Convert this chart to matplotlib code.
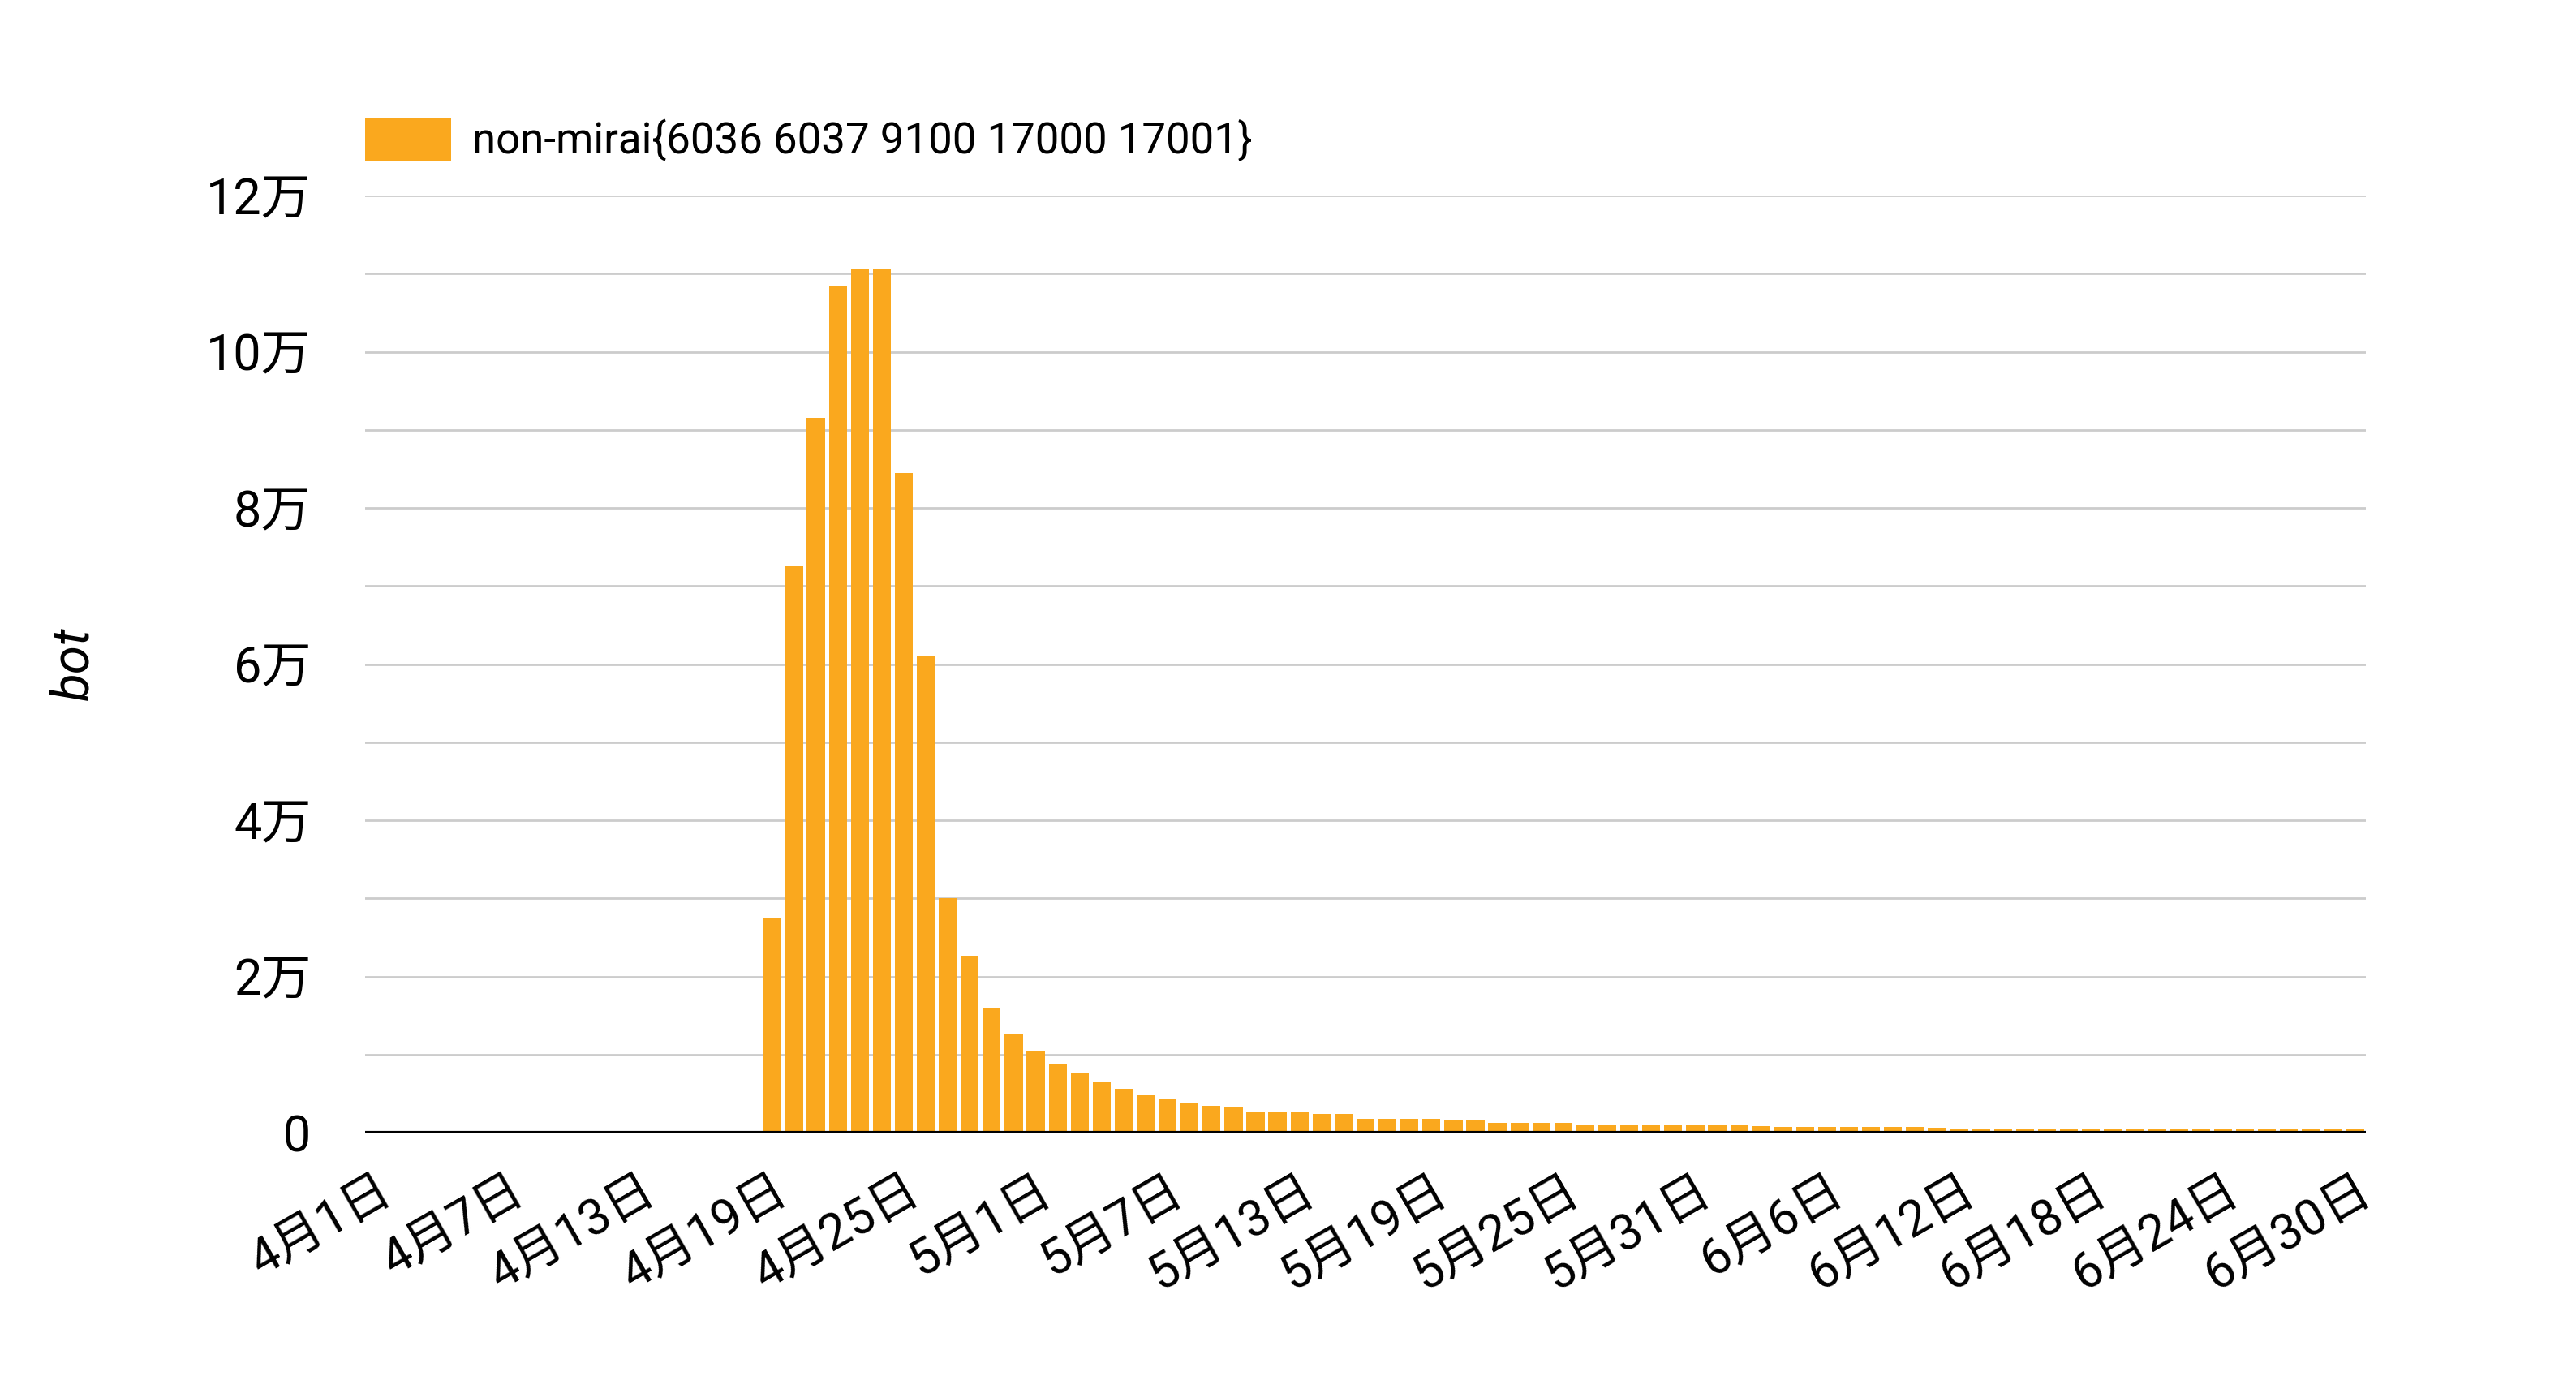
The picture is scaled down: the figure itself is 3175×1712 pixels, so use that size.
import matplotlib
matplotlib.use("Agg")
import matplotlib.pyplot as plt
import numpy as np
import datetime as dt

plt.rcParams['font.family'] = ['Roboto', 'Noto Sans CJK SC', 'DejaVu Sans']

start = dt.date(2024, 4, 1)
dates = [start + dt.timedelta(days=i) for i in range(91)]
date_labels = [f"{d.month}月{d.day}日" for d in dates]

values_early = [0]*18  # Apr 1 - Apr 18
values_peak = [27500, 72500, 91500, 108500, 110500, 110500, 84500, 61000, 30000]  # Apr19-Apr27
values_tail = ([22600, 16000, 12600, 10400, 8700, 7650, 6500, 5650, 4800, 4300, 3750, 3450, 3200]
               + [2600]*3 + [2400]*2 + [1750]*4 + [1550]*2 + [1230]*4 + [1020]*8 + [800]
               + [700]*7 + [600] + [490]*7 + [390]*12)
values = values_early + values_peak + values_tail
series_name = "non-mirai{6036 6037 9100 17000 17001}"
y_ticks = [0, 20000, 40000, 60000, 80000, 100000, 120000]
y_tick_labels = ["0", "2万", "4万", "6万", "8万", "10万", "12万"]

fig = plt.figure(figsize=(31.75, 17.12), dpi=100)
ax = fig.add_axes([450/3175, 1-1396/1712, (2916-450)/3175, (1396-241)/1712])
x = np.arange(len(values))
ax.bar(x, values, width=0.82, color='#FAA81E', label=series_name, zorder=3)
ax.set_xlim(-0.5, len(values)-0.5)
ax.set_ylim(0, 120000)
ax.set_yticks(y_ticks)
ax.set_yticklabels(y_tick_labels, fontsize=44)
for yv in range(10000, 120001, 10000):
    ax.axhline(yv, color='#CCCCCC', lw=2, zorder=1)
ax.axhline(0, color='black', lw=3, zorder=4)
ticks = list(range(0, 91, 6))
ax.set_xticks(ticks)
ax.set_xticklabels([date_labels[i] for i in ticks], rotation=30, ha='right', fontsize=44, rotation_mode='anchor')
ax.tick_params(length=0)
ax.tick_params(axis='y', pad=48)
ax.tick_params(axis='x', pad=30)
for s in ax.spines.values():
    s.set_visible(False)
ax.set_ylabel('bot', fontsize=46, style='italic', labelpad=95)
leg = ax.legend(loc='lower left', bbox_to_anchor=(0, 1.035), frameon=False, fontsize=38,
                handlelength=2.0, handleheight=1.2, handletextpad=0.5, borderaxespad=0, borderpad=0)
fig.savefig('out.png', dpi=100, facecolor='white')
